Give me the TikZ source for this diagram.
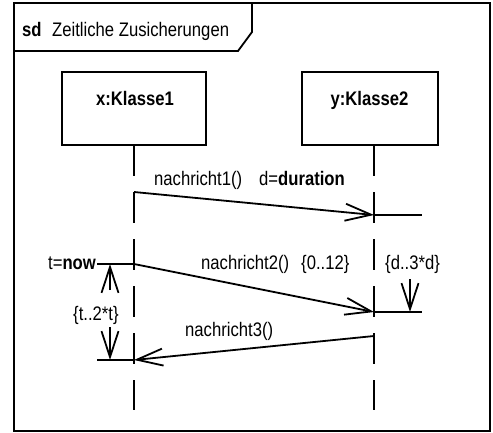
\documentclass[tikz,border=0pt]{standalone}
\usepackage{fontspec}
\setmainfont{Liberation Sans}[FakeStretch=0.85]
\usetikzlibrary{arrows.meta}
\begin{document}
\begin{tikzpicture}[x=1pt,y=-1pt,
  every node/.style={font=\fontsize{19.6}{23}\selectfont, inner sep=0pt},
  ln/.style={line width=1.8pt},
  lifebox/.style={draw, line width=1.8pt, minimum height=73pt},
  boxtext/.style={anchor=base, font=\fontsize{19.6}{23}\selectfont\bfseries},
  lifeline/.style={line width=1.8pt, dash pattern=on 31pt off 16pt},
  msg/.style={line width=1.8pt, -{Straight Barb[length=26pt,width=17pt]}},
  lbl/.style={anchor=base west}
]
\useasboundingbox (0,0) rectangle (493,432);
\fill[white] (0,0) rectangle (493,432);

% frame and title tab
\draw[ln] (14,3) rectangle (490,431);
\draw[ln] (14,51) -- (238,51) -- (252,32) -- (252,3);
\node[lbl] (sd) at (22,36) {\bfseries sd};
\node[lbl] (title) at (52,36) {Zeitliche Zusicherungen};

% objects
\node[lifebox, minimum width=144pt] (k1) at (134,108.5) {};
\node[boxtext] (k1t) at (135,105) {x:Klasse1};
\node[lifebox, minimum width=136pt] (k2) at (370,108.5) {};
\node[boxtext] (k2t) at (369.5,105) {y:Klasse2};

% lifelines
\coordinate (l1top) at (134,145);
\coordinate (l1bot) at (134,410);
\coordinate (l2top) at (374,145);
\coordinate (l2bot) at (374,410);
\draw[lifeline] (l1top) -- (l1bot);
\draw[lifeline] (l2top) -- (l2bot);

% event points
\coordinate (m1s) at (134,192);
\coordinate (m1e) at (374,215);
\coordinate (d1) at (422,215);
\coordinate (m2s) at (134,264);
\coordinate (m2e) at (374,312);
\coordinate (d2) at (422,312);
\coordinate (m3s) at (374,336);
\coordinate (m3e) at (134,360);
\coordinate (now) at (97,264);
\coordinate (now2) at (97,360);

% messages
\draw[msg] (m1s) -- (m1e);
\draw[ln] (m1e) -- (d1);
\node[lbl] (n1) at (154,185) {nachricht1()};
\node[lbl] (dd) at (259,185) {d=\textbf{duration}};

\draw[msg] (m2s) -- (m2e);
\draw[ln] (m2e) -- (d2);
\node[lbl] (n2) at (201,269) {nachricht2()};
\node[lbl] (c2) at (301,269) {\{0..12\}};

\draw[msg] (m3s) -- (m3e);
\node[lbl] (n3) at (185,336) {nachricht3()};

% timing constraint at the sender
\draw[ln] (now) -- (m2s);
\draw[ln] (now2) -- (m3e);
\node[lbl] (tnow) at (48,269) {t=\textbf{now}};
\coordinate (ta) at (110,290);
\coordinate (tat) at (110,264);
\coordinate (tb) at (110,327);
\coordinate (tbt) at (110,360);
\draw[msg] (ta) -- (tat);
\draw[msg] (tb) -- (tbt);
\node[lbl] (tc) at (73,320) {\{t..2*t\}};

% duration constraint at the receiver
\coordinate (da) at (410,279);
\coordinate (dat) at (410,312);
\draw[msg] (da) -- (dat);
\node[lbl] (dc) at (385,269) {\{d..3*d\}};
\end{tikzpicture}
\end{document}
